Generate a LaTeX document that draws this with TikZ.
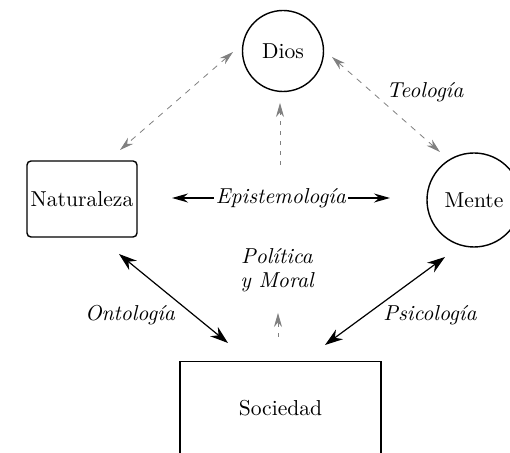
\documentclass[tikz,border=0pt]{standalone}
\usetikzlibrary{arrows.meta}
\begin{document}
\begin{tikzpicture}[x=0.5pt,y=-0.5pt,
  every node/.style={font=\fontsize{10.8}{12.8}\selectfont},
  lab/.style={font=\fontsize{10.8}{12.8}\selectfont\itshape},
  shape line/.style={draw,line width=0.7pt},
  blk/.style={line width=0.6pt,{Stealth[length=9pt,width=6pt]}-{Stealth[length=9pt,width=6pt]}},
  epi/.style={line width=0.6pt,-{Stealth[length=8pt,width=4.5pt]}},
  gd/.style={gray,line width=0.4pt,dash pattern=on 3pt off 3pt,{Stealth[length=7pt,width=4pt]}-{Stealth[length=7pt,width=4pt]}},
  gdone/.style={gray,line width=0.4pt,dash pattern=on 2pt off 3pt,-{Stealth[length=7pt,width=4pt]}},
  ]
\clip (0,0) rectangle (510,453);
\fill[white] (0,0) rectangle (510,453);
% nodes
\node[shape line,circle,minimum size=40.5pt,inner sep=0pt] (dios) at (283,51) {Dios};
\node[shape line,circle,minimum size=47pt,inner sep=0pt] (mente) at (474,200) {Mente};
\node[shape line,rounded corners=2pt,minimum width=55pt,minimum height=38pt,inner sep=0pt] (nat) at (82,199) {Naturaleza};
\node[shape line,minimum width=100.5pt,minimum height=52pt,inner sep=0pt,anchor=north] (soc) at (280.5,361) {};
\node (soctext) at (280.5,408) {Sociedad};
% labels
\node[lab,inner sep=1pt] (epist) at (281,198) {Epistemología};
\node[lab,align=center,inner sep=0pt] (pol) at (277,270) {Política\\[-1pt] y Moral};
\node[lab] (teo) at (425,92) {Teología};
\node[lab] (onto) at (130,315) {Ontología};
\node[lab] (psico) at (430,315) {Psicología};
% connector end coordinates
\coordinate (eL) at (172,198);
\coordinate (eR) at (390,198);
\coordinate (oA) at (119,254);
\coordinate (oB) at (228,343);
\coordinate (pA) at (445,257);
\coordinate (pB) at (325,345);
\coordinate (dnA) at (233,52);
\coordinate (dnB) at (120,150);
\coordinate (dmA) at (332,57);
\coordinate (dmB) at (440,152);
\coordinate (vA) at (280,165);
\coordinate (vB) at (280,103);
\coordinate (sA) at (278,337);
\coordinate (sB) at (278,313);
% connectors
\draw[epi] (epist.west) -- (eL);
\draw[epi] (epist.east) -- (eR);
\draw[blk] (oA) -- (oB);
\draw[blk] (pA) -- (pB);
\draw[gd] (dnA) -- (dnB);
\draw[gd] (dmA) -- (dmB);
\draw[gdone] (vA) -- (vB);
\draw[gdone] (sA) -- (sB);
\end{tikzpicture}
\end{document}
